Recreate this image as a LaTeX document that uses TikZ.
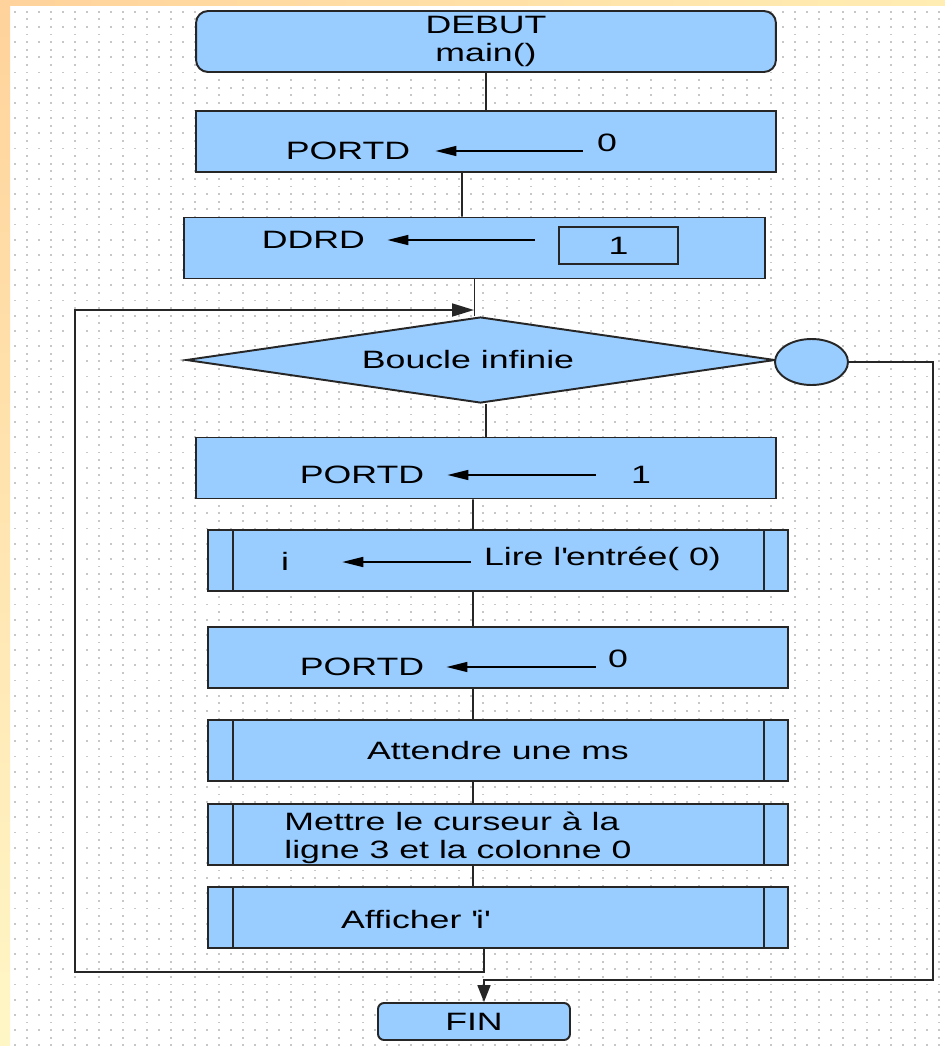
\documentclass[tikz,border=0pt]{standalone}
\usepackage{fontspec}
\setmainfont{Liberation Sans}[FakeStretch=1.42]
\usetikzlibrary{shapes.geometric,arrows.meta}
\pgfdeclarelayer{gridlayer}
\pgfdeclarelayer{edgelayer}
\pgfdeclarelayer{nodelayer}
\pgfsetlayers{gridlayer,edgelayer,nodelayer,main}
\definecolor{boxblue}{HTML}{99CCFF}
\definecolor{peach}{HTML}{FFD39B}
\definecolor{cream}{HTML}{FFF6C6}
\definecolor{pale}{HTML}{FFEDB3}
\tikzset{font=\fontsize{14.3}{16}\selectfont}
\tikzstyle{none}=[inner sep=0pt, text height=10.2pt, text depth=0pt]
\tikzstyle{proc}=[rectangle, draw=black!85, line width=1.1pt, fill=boxblue, minimum width=11.6cm, minimum height=1.22cm, inner sep=0pt]
\tikzstyle{start}=[proc, rounded corners=0.24cm, align=center]
\tikzstyle{sub}=[proc, path picture={
	\draw[line width=1.1pt, black!85] ([xshift=0.5cm]path picture bounding box.north west) -- ([xshift=0.5cm]path picture bounding box.south west)
		([xshift=-0.48cm]path picture bounding box.north east) -- ([xshift=-0.48cm]path picture bounding box.south east);}]
\tikzstyle{cond}=[diamond, draw=black!85, line width=1.1pt, fill=boxblue, aspect=6.85, minimum width=11.78cm, minimum height=1.72cm, inner sep=0pt]
\tikzstyle{conn}=[ellipse, draw=black!85, line width=1.1pt, fill=boxblue, minimum width=1.46cm, minimum height=0.92cm, inner sep=0pt]
\tikzstyle{val}=[rectangle, draw=black!85, line width=1pt, minimum width=2.38cm, minimum height=0.74cm, inner sep=0pt]
\tikzstyle{flow}=[draw=black!85, line width=1pt]
\tikzstyle{assign}=[draw=black, line width=0.9pt, -{Triangle[length=0.42cm,width=0.2cm]}]
\tikzstyle{dots}=[line width=1pt, black!22]

\begin{document}
\begin{tikzpicture}[x=0.02cm, y=-0.02cm]
	\useasboundingbox (0,0) rectangle (945,1046);
	\begin{pgfonlayer}{gridlayer}
		\fill[white] (0,0) rectangle (945,1046);
		\shade[top color=peach, bottom color=cream] (0,0) rectangle (10,1046);
		\shade[left color=peach, right color=pale] (0,0) rectangle (945,5);
		\foreach \k in {0,...,68} {
			\draw[dots, dash pattern=on 0.03cm off 0.21cm] (14.3,{11.7+15.2*\k}) -- (945,{11.7+15.2*\k});
			\draw[dots, dash pattern=on 0.03cm off 0.45cm] (26.3,{19.3+15.2*\k}) -- (945,{19.3+15.2*\k});
		}
	\end{pgfonlayer}
	\begin{pgfonlayer}{nodelayer}
		\node [style=start] (0) at (486, 41.5) {DEBUT\\main()};
		\node [style=proc] (1) at (486, 141.5) {};
		\node [style=none] (2) at (348, 151) {PORTD};
		\node [style=none] (3) at (607, 143) {0};
		\node [style=proc, minimum width=11.62cm] (4) at (474.5, 248) {};
		\node [style=none] (5) at (313.5, 240) {DDRD};
		\node [style=val] (6) at (618.5, 245.5) {1};
		\node [style=cond] (7) at (480.5, 360) {\hspace*{-0.5cm}Boucle infinie};
		\node [style=conn] (8) at (811.5, 362) {};
		\node [style=proc] (9) at (486, 468) {};
		\node [style=none] (10) at (362, 475) {PORTD};
		\node [style=none] (11) at (641, 475) {1};
		\node [style=sub] (12) at (498, 560.5) {};
		\node [style=none] (13) at (285, 562) {i};
		\node [style=none] (14) at (602.5, 557) {Lire l\textquotesingle entrée( 0)};
		\node [style=proc] (15) at (498, 657.5) {};
		\node [style=none] (16) at (362, 667) {PORTD};
		\node [style=none] (17) at (618, 659) {0};
		\node [style=sub] (18) at (498, 750.5) {Attendre une ms};
		\node [style=sub] (19) at (498, 834.5) {};
		\node [style=none, anchor=west] (20) at (284, 822) {Mettre le curseur à la};
		\node [style=none, anchor=west] (21) at (284, 850) {ligne 3 et la colonne 0};
		\node [style=sub] (22) at (498, 917.5) {};
		\node [style=none] (23) at (415, 920) {Afficher \textquotesingle i\textquotesingle};
		\node [style=start, rounded corners=0.12cm, minimum width=3.84cm, minimum height=0.74cm] (24) at (474, 1021.5) {FIN};
		\coordinate (25) at (484, 972);
		\coordinate (26) at (75, 310);
		\coordinate (27) at (474, 310);
		\coordinate (28) at (933, 980);
	\end{pgfonlayer}
	\begin{pgfonlayer}{edgelayer}
		\draw[flow] (0.south) to (1.north);
		\draw[flow] ([xshift=-0.48cm]1.south) to ([xshift=-0.25cm]4.north);
		\draw[flow] (4.south) to (4.south |- 7.north);
		\draw[flow] (9.north |- 7.south) to (9.north);
		\draw[flow] ([xshift=-0.26cm]9.south) to ([xshift=-0.5cm]12.north);
		\draw[flow] ([xshift=-0.5cm]12.south) to ([xshift=-0.5cm]15.north);
		\draw[flow] ([xshift=-0.5cm]15.south) to ([xshift=-0.5cm]18.north);
		\draw[flow] ([xshift=-0.5cm]18.south) to ([xshift=-0.5cm]19.north);
		\draw[flow] ([xshift=-0.5cm]19.south) to ([xshift=-0.5cm]22.north);
		% retour de boucle
		\draw[flow, -{Triangle[length=0.44cm,width=0.26cm]}] (22.south -| 25) -- (25) -| (26) -- (27);
		% sortie de boucle
		\draw[flow, -{Triangle[length=0.34cm,width=0.26cm]}] (8.east) -| (28) -| (24.north -| 25);
	\end{pgfonlayer}
	% affectations
	\draw[assign, shorten <=0.28cm, shorten >=0.5cm] (3.west |- 2.east) to (2.east);
	\draw[assign, shorten <=0.46cm, shorten >=0.44cm] (6.west |- 5.east) to (5.east);
	\draw[assign, shorten <=0.7cm, shorten >=0.46cm] (11.west |- 10.east) to (10.east);
	\draw[assign, shorten <=0.26cm, shorten >=1.06cm] (14.west |- 13.east) to (13.east);
	\draw[assign, shorten <=0.24cm, shorten >=0.44cm] (17.west |- 16.east) to (16.east);
\end{tikzpicture}
\end{document}
